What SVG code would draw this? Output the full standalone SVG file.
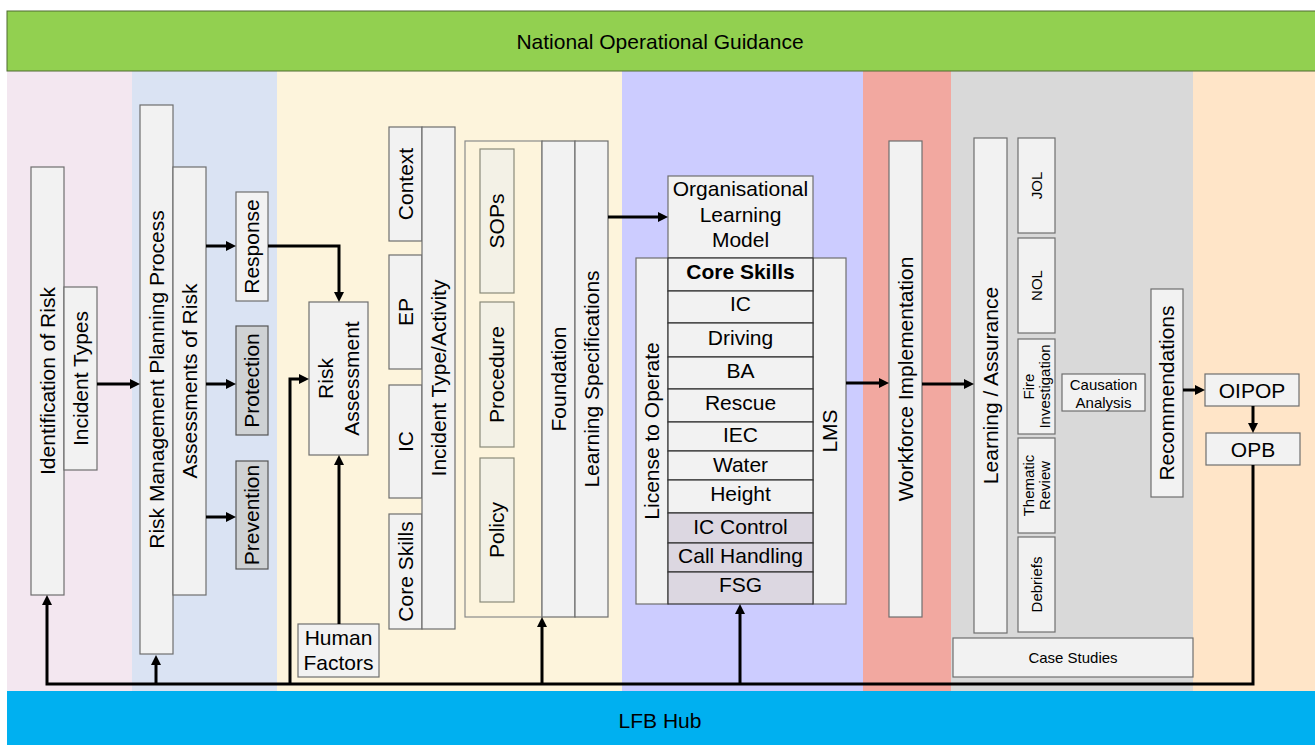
<svg xmlns="http://www.w3.org/2000/svg" width="1315" height="745" viewBox="0 0 1315 745">
<style>
text{font-family:"Liberation Sans",Arial,sans-serif;fill:#000;text-anchor:middle}
.t{font-size:21px}
.s{font-size:15px}
.b{fill:#F2F2F2;stroke:#6E6E6E;stroke-width:1.2}
.d{fill:#CFD2D4;stroke:#555;stroke-width:1.2}
.y{fill:#F3F1E6;stroke:#8A8A7A;stroke-width:1.2}
.r{fill:#F2F2F2;stroke:#333;stroke-width:1.2}
.p{fill:#DCD7E1;stroke:#333;stroke-width:1.2}
.c{fill:none;stroke:#000;stroke-width:3}
</style>
<defs>
<marker id="ah" viewBox="0 0 10 10" refX="5" refY="5" markerWidth="10" markerHeight="10" markerUnits="userSpaceOnUse" orient="auto">
<path d="M0,0 L10,5 L0,10 z" fill="#000"/>
</marker>
</defs>
<g id="background">
<rect x="7" y="71" width="125" height="620" fill="#F3E7F0"/>
<rect x="132" y="71" width="145" height="620" fill="#DAE3F3"/>
<rect x="277" y="71" width="345" height="620" fill="#FDF4DC"/>
<rect x="622" y="71" width="241" height="620" fill="#CCCCFF"/>
<rect x="863" y="71" width="88" height="620" fill="#F2A8A0"/>
<rect x="951" y="71" width="242" height="620" fill="#D9D9D9"/>
<rect x="1193" y="71" width="122" height="620" fill="#FFE5C8"/>
</g>
<g id="nog">
<rect x="7" y="11" width="1310" height="60" fill="#92D050" stroke="#4F6B30" stroke-width="1"/>
<text class="t" x="660" y="49">National Operational Guidance</text>
</g>
<g id="lfb-hub">
<rect x="7" y="691" width="1310" height="56" fill="#00B0F0"/>
<text class="t" x="660" y="728">LFB Hub</text>
</g>
<g id="identification-of-risk">
<rect class="b" x="31" y="167" width="33" height="428"/>
<text class="t" transform="translate(47.5,381) rotate(-90)" dy="0.35em">Identification of Risk</text>
</g>
<g id="incident-types">
<rect class="b" x="64" y="287" width="33" height="183"/>
<text class="t" transform="translate(80.5,378.5) rotate(-90)" dy="0.35em">Incident Types</text>
</g>
<g id="rmpp">
<rect class="b" x="140" y="105" width="33" height="549"/>
<text class="t" transform="translate(156.5,379.5) rotate(-90)" dy="0.35em">Risk Management Planning Process</text>
</g>
<g id="assessments-of-risk">
<rect class="b" x="173" y="167" width="33" height="428"/>
<text class="t" transform="translate(189.5,381) rotate(-90)" dy="0.35em">Assessments of Risk</text>
</g>
<g id="response">
<rect class="b" x="236" y="192" width="32" height="109"/>
<text class="t" transform="translate(252,246.5) rotate(-90)" dy="0.35em">Response</text>
</g>
<g id="protection">
<rect class="d" x="236" y="326" width="32" height="109"/>
<text class="t" transform="translate(252,380.5) rotate(-90)" dy="0.35em">Protection</text>
</g>
<g id="prevention">
<rect class="d" x="236" y="461" width="32" height="108"/>
<text class="t" transform="translate(252,515) rotate(-90)" dy="0.35em">Prevention</text>
</g>
<g id="risk-assessment">
<rect class="b" x="309" y="302" width="59" height="153"/>
<text class="t" transform="translate(338.5,378.5) rotate(-90)"><tspan x="0" dy="-5.5">Risk</tspan><tspan x="0" dy="26">Assessment</tspan></text>
</g>
<g id="human-factors">
<rect class="b" x="298" y="624" width="81" height="53"/>
<text class="t" x="338.5" y="645">Human<tspan x="338.5" dy="25">Factors</tspan></text>
</g>
<g id="context">
<rect class="b" x="389" y="127" width="33" height="114"/>
<text class="t" transform="translate(405.5,184) rotate(-90)" dy="0.35em">Context</text>
</g>
<g id="ep">
<rect class="b" x="389" y="255" width="33" height="114"/>
<text class="t" transform="translate(405.5,312) rotate(-90)" dy="0.35em">EP</text>
</g>
<g id="ic-activity">
<rect class="b" x="389" y="385" width="33" height="113"/>
<text class="t" transform="translate(405.5,441.5) rotate(-90)" dy="0.35em">IC</text>
</g>
<g id="core-skills-activity">
<rect class="b" x="389" y="514" width="33" height="115"/>
<text class="t" transform="translate(405.5,571.5) rotate(-90)" dy="0.35em">Core Skills</text>
</g>
<g id="incident-type-activity">
<rect class="b" x="422" y="127" width="33" height="502"/>
<text class="t" transform="translate(438.5,378) rotate(-90)" dy="0.35em">Incident Type/Activity</text>
</g>
<g id="guidance-container">
<rect x="465" y="141" width="77" height="476" fill="none" stroke="#8A8A8A" stroke-width="1.2"/>
</g>
<g id="sops">
<rect class="y" x="480" y="149" width="34" height="144"/>
<text class="t" transform="translate(497,221) rotate(-90)" dy="0.35em">SOPs</text>
</g>
<g id="procedure">
<rect class="y" x="480" y="302" width="34" height="145"/>
<text class="t" transform="translate(497,374.5) rotate(-90)" dy="0.35em">Procedure</text>
</g>
<g id="policy">
<rect class="y" x="480" y="458" width="34" height="144"/>
<text class="t" transform="translate(497,530) rotate(-90)" dy="0.35em">Policy</text>
</g>
<g id="foundation">
<rect class="b" x="542" y="141" width="33" height="476"/>
<text class="t" transform="translate(558.5,379) rotate(-90)" dy="0.35em">Foundation</text>
</g>
<g id="learning-specifications">
<rect class="b" x="575" y="141" width="33" height="476"/>
<text class="t" transform="translate(591.5,379) rotate(-90)" dy="0.35em">Learning Specifications</text>
</g>
<g id="olm">
<rect class="b" x="668" y="176" width="145" height="82"/>
<text class="t" x="740.5" y="196">Organisational<tspan x="740.5" dy="25.5">Learning</tspan><tspan x="740.5" dy="25.5">Model</tspan></text>
</g>
<g id="license-to-operate">
<rect class="b" x="636" y="258" width="32" height="346"/>
<text class="t" transform="translate(652,431) rotate(-90)" dy="0.35em">License to Operate</text>
</g>
<g id="lms">
<rect class="b" x="813" y="258" width="33" height="346"/>
<text class="t" transform="translate(829.5,431) rotate(-90)" dy="0.35em">LMS</text>
</g>
<g id="core-skills-list">
<rect class="r" x="668" y="258" width="145" height="33"/>
<text class="t" x="740.5" y="278.5" font-weight="bold">Core Skills</text>
<rect class="r" x="668" y="291" width="145" height="32"/>
<text class="t" x="740.5" y="311">IC</text>
<rect class="r" x="668" y="323" width="145" height="34"/>
<text class="t" x="740.5" y="345">Driving</text>
<rect class="r" x="668" y="357" width="145" height="32"/>
<text class="t" x="740.5" y="377.5">BA</text>
<rect class="r" x="668" y="389" width="145" height="33"/>
<text class="t" x="740.5" y="410">Rescue</text>
<rect class="r" x="668" y="422" width="145" height="29"/>
<text class="t" x="740.5" y="442">IEC</text>
<rect class="r" x="668" y="451" width="145" height="29"/>
<text class="t" x="740.5" y="472">Water</text>
<rect class="r" x="668" y="480" width="145" height="33"/>
<text class="t" x="740.5" y="501">Height</text>
<rect class="p" x="668" y="513" width="145" height="30"/>
<text class="t" x="740.5" y="534">IC Control</text>
<rect class="p" x="668" y="543" width="145" height="29"/>
<text class="t" x="740.5" y="563">Call Handling</text>
<rect class="p" x="668" y="572" width="145" height="32"/>
<text class="t" x="740.5" y="592">FSG</text>
</g>
<g id="workforce-implementation">
<rect class="b" x="889" y="141" width="33" height="476"/>
<text class="t" transform="translate(905.5,379) rotate(-90)" dy="0.35em">Workforce Implementation</text>
</g>
<g id="learning-assurance">
<rect class="b" x="974" y="138" width="33" height="495"/>
<text class="t" transform="translate(990.5,385.5) rotate(-90)" dy="0.35em">Learning / Assurance</text>
</g>
<g id="jol">
<rect class="b" x="1018" y="138" width="37" height="95"/>
<text class="s" transform="translate(1036.5,185.5) rotate(-90)" dy="0.35em">JOL</text>
</g>
<g id="nol">
<rect class="b" x="1018" y="238" width="37" height="95"/>
<text class="s" transform="translate(1036.5,285.5) rotate(-90)" dy="0.35em">NOL</text>
</g>
<g id="fire-investigation">
<rect class="b" x="1018" y="339" width="37" height="95"/>
<text class="s" transform="translate(1036.5,386.5) rotate(-90)"><tspan x="0" dy="-3">Fire</tspan><tspan x="0" dy="16">Investigation</tspan></text>
</g>
<g id="thematic-review">
<rect class="b" x="1018" y="438" width="37" height="95"/>
<text class="s" transform="translate(1036.5,485.5) rotate(-90)"><tspan x="0" dy="-3">Thematic</tspan><tspan x="0" dy="16">Review</tspan></text>
</g>
<g id="debriefs">
<rect class="b" x="1018" y="537" width="37" height="95"/>
<text class="s" transform="translate(1036.5,584.5) rotate(-90)" dy="0.35em">Debriefs</text>
</g>
<g id="causation-analysis">
<rect class="b" x="1062" y="374" width="83" height="37"/>
<text class="s" x="1103.5" y="390">Causation<tspan x="1103.5" dy="18">Analysis</tspan></text>
</g>
<g id="recommendations">
<rect class="b" x="1151" y="289" width="32" height="208"/>
<text class="t" transform="translate(1167,393) rotate(-90)" dy="0.35em">Recommendations</text>
</g>
<g id="oipop">
<rect class="b" x="1205" y="374" width="94" height="32"/>
<text class="t" x="1252" y="397.5">OIPOP</text>
</g>
<g id="opb">
<rect class="b" x="1206" y="433" width="94" height="32"/>
<text class="t" x="1253" y="456.5">OPB</text>
</g>
<g id="case-studies">
<rect class="b" x="953" y="638" width="240" height="39"/>
<text class="s" x="1073" y="663" font-size="14.5">Case Studies</text>
</g>
<g id="connectors">
<path class="c" d="M97,384 H135" marker-end="url(#ah)"/>
<path class="c" d="M206,246 H231" marker-end="url(#ah)"/>
<path class="c" d="M206,384 H231" marker-end="url(#ah)"/>
<path class="c" d="M206,517 H231" marker-end="url(#ah)"/>
<path class="c" d="M268,246 H339 V297" marker-end="url(#ah)"/>
<path class="c" d="M339,624 V460" marker-end="url(#ah)"/>
<path class="c" d="M290,684 V379 H304" marker-end="url(#ah)"/>
<path class="c" d="M608,217 H663" marker-end="url(#ah)"/>
<path class="c" d="M846,383 H884" marker-end="url(#ah)"/>
<path class="c" d="M922,384 H969" marker-end="url(#ah)"/>
<path class="c" d="M1183,390 H1200" marker-end="url(#ah)"/>
<path class="c" d="M1253,406 V428" marker-end="url(#ah)"/>
<path class="c" d="M1253,465 V684 H47 V600" marker-end="url(#ah)"/>
<path class="c" d="M156,684 V660" marker-end="url(#ah)"/>
<path class="c" d="M542,684 V622" marker-end="url(#ah)"/>
<path class="c" d="M740,684 V609" marker-end="url(#ah)"/>
</g>
</svg>
